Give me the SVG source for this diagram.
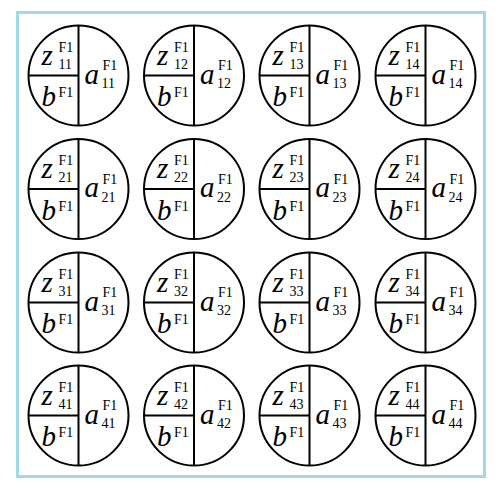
<svg xmlns="http://www.w3.org/2000/svg" width="501" height="490" viewBox="0 0 501 490">
<style>
.c{fill:none;stroke:#000;stroke-width:2}
.l{stroke:#000;stroke-width:2}
.v{font-family:"Liberation Serif",serif;font-style:italic;font-size:29px;fill:#000}
.s{font-family:"Liberation Serif",serif;font-size:14px;fill:#000}
</style>
<rect x="0" y="0" width="501" height="490" fill="#fff"/>
<rect x="17.5" y="12.5" width="467" height="464" fill="none" stroke="#a3d8e6" stroke-width="3"/>
<defs>
<g id="shape">
<circle class="c" cx="0" cy="0" r="50"/>
<line class="l" x1="0" y1="-50" x2="0" y2="50"/>
<line class="l" x1="-50" y1="0" x2="0" y2="0"/>
<text class="v" x="-37" y="-11">z</text>
<text class="s" x="-20" y="-24">F1</text>
<text class="v" x="6" y="8">a</text>
<text class="s" x="24" y="-5.5">F1</text>
<text class="v" x="-37" y="30.5">b</text>
<text class="s" x="-20" y="21.5">F1</text>
</g>
</defs>
<g id="connectors"></g>
<g id="n11" transform="translate(78.5,75.5)"><use href="#shape"/><text class="s" x="-20" y="-7">11</text><text class="s" x="23" y="12.5">11</text></g>
<g id="n12" transform="translate(194,75.5)"><use href="#shape"/><text class="s" x="-20" y="-7">12</text><text class="s" x="23" y="12.5">12</text></g>
<g id="n13" transform="translate(309.5,75.5)"><use href="#shape"/><text class="s" x="-20" y="-7">13</text><text class="s" x="23" y="12.5">13</text></g>
<g id="n14" transform="translate(425.5,75.5)"><use href="#shape"/><text class="s" x="-20" y="-7">14</text><text class="s" x="23" y="12.5">14</text></g>
<g id="n21" transform="translate(78.5,189)"><use href="#shape"/><text class="s" x="-20" y="-7">21</text><text class="s" x="23" y="12.5">21</text></g>
<g id="n22" transform="translate(194,189)"><use href="#shape"/><text class="s" x="-20" y="-7">22</text><text class="s" x="23" y="12.5">22</text></g>
<g id="n23" transform="translate(309.5,189)"><use href="#shape"/><text class="s" x="-20" y="-7">23</text><text class="s" x="23" y="12.5">23</text></g>
<g id="n24" transform="translate(425.5,189)"><use href="#shape"/><text class="s" x="-20" y="-7">24</text><text class="s" x="23" y="12.5">24</text></g>
<g id="n31" transform="translate(78.5,302.5)"><use href="#shape"/><text class="s" x="-20" y="-7">31</text><text class="s" x="23" y="12.5">31</text></g>
<g id="n32" transform="translate(194,302.5)"><use href="#shape"/><text class="s" x="-20" y="-7">32</text><text class="s" x="23" y="12.5">32</text></g>
<g id="n33" transform="translate(309.5,302.5)"><use href="#shape"/><text class="s" x="-20" y="-7">33</text><text class="s" x="23" y="12.5">33</text></g>
<g id="n34" transform="translate(425.5,302.5)"><use href="#shape"/><text class="s" x="-20" y="-7">34</text><text class="s" x="23" y="12.5">34</text></g>
<g id="n41" transform="translate(78.5,415.5)"><use href="#shape"/><text class="s" x="-20" y="-7">41</text><text class="s" x="23" y="12.5">41</text></g>
<g id="n42" transform="translate(194,415.5)"><use href="#shape"/><text class="s" x="-20" y="-7">42</text><text class="s" x="23" y="12.5">42</text></g>
<g id="n43" transform="translate(309.5,415.5)"><use href="#shape"/><text class="s" x="-20" y="-7">43</text><text class="s" x="23" y="12.5">43</text></g>
<g id="n44" transform="translate(425.5,415.5)"><use href="#shape"/><text class="s" x="-20" y="-7">44</text><text class="s" x="23" y="12.5">44</text></g>
</svg>
